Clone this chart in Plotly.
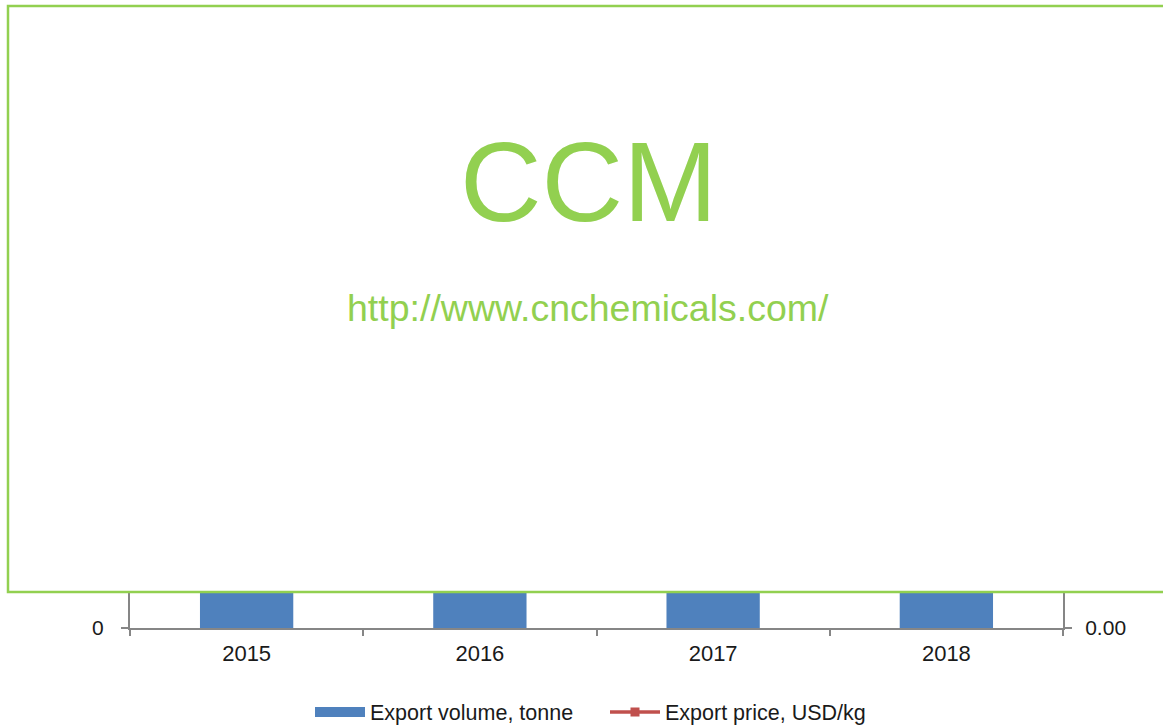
import plotly.graph_objects as go

years = ["2015", "2016", "2017", "2018"]
export_volume = [1450, 1620, 1380, 1510]      # tonne (hidden above the overlay, estimated)
export_price = [3.6, 3.9, 4.2, 4.0]           # USD/kg (hidden behind the overlay, estimated)

blue = "#4F81BD"
red = "#C0504D"
green = "#92D050"
axis_col = "#868686"
font_col = "#1a1a1a"
FONT = "Liberation Sans, Arial, sans-serif"

W, H = 1163, 725
L, R, T, B = 130, 100, 40, 97
pw, ph = W - L - R, H - T - B

def px_x(p):
    return (p - L) / pw

def px_y(p):
    return (H - B - p) / ph

fig = go.Figure()
fig.add_trace(go.Bar(x=years, y=export_volume, marker=dict(color=blue, line=dict(width=0)),
                     name="Export volume, tonne", showlegend=False, yaxis="y"))
fig.add_trace(go.Scatter(x=[None], y=[None], mode="lines", line=dict(color=blue, width=12),
                         name="Export volume, tonne", showlegend=True))
fig.add_trace(go.Scatter(x=years, y=export_price, mode="lines+markers",
                         line=dict(color=red, width=3.5),
                         marker=dict(symbol="square", size=9, color=red),
                         name="Export price, USD/kg", yaxis="y2"))

fig.update_layout(
    width=W, height=H,
    margin=dict(l=L, r=R, t=T, b=B, autoexpand=False),
    paper_bgcolor="white", plot_bgcolor="white",
    font=dict(family=FONT, size=21, color=font_col),
    bargap=0.6,
    xaxis=dict(type="category", showline=True, linecolor=axis_col, linewidth=2,
               ticks="outside", tickson="boundaries", ticklen=6, tickcolor=axis_col,
               tickwidth=1.5, showgrid=False, tickfont=dict(size=22),
               ticklabelstandoff=5, automargin=False),
    yaxis=dict(range=[0, 1800], showline=True, linecolor=axis_col, linewidth=2,
               ticks="outside", ticklen=7, tickcolor=axis_col, tickwidth=1.5, showgrid=False,
               zeroline=False, dtick=300, tickfont=dict(size=21), ticklabelstandoff=13,
               automargin=False),
    yaxis2=dict(range=[0, 5], overlaying="y", side="right", showline=True,
                linecolor=axis_col, linewidth=2, ticks="outside", ticklen=7,
                tickcolor=axis_col, tickwidth=1.5, showgrid=False, zeroline=False, dtick=1,
                tickformat=".2f", tickfont=dict(size=21), ticklabelstandoff=9,
                automargin=False),
    legend=dict(orientation="h", x=px_x(310), xanchor="left", y=px_y(712), yanchor="middle",
                font=dict(size=21.5), itemwidth=50, entrywidth=230,
                bgcolor="rgba(0,0,0,0)", traceorder="normal", tracegroupgap=0),
    shapes=[dict(type="rect", xref="paper", yref="paper", layer="above",
                 x0=px_x(8), x1=px_x(1190), y0=px_y(592), y1=px_y(6),
                 fillcolor="white", line=dict(color=green, width=2.5))],
    annotations=[
        dict(text="CCM", xref="paper", yref="paper", x=px_x(588), y=px_y(182),
             xanchor="center", yanchor="middle", showarrow=False,
             font=dict(size=113, color=green, family=FONT)),
        dict(text="http://www.cnchemicals.com/", xref="paper", yref="paper",
             x=px_x(588), y=px_y(308), xanchor="center", yanchor="middle", showarrow=False,
             font=dict(size=37.5, color=green, family=FONT)),
    ],
)

fig.write_html("out.html", config={"displayModeBar": False},
               post_script="document.body.style.margin='0';document.body.style.overflow='hidden';")
